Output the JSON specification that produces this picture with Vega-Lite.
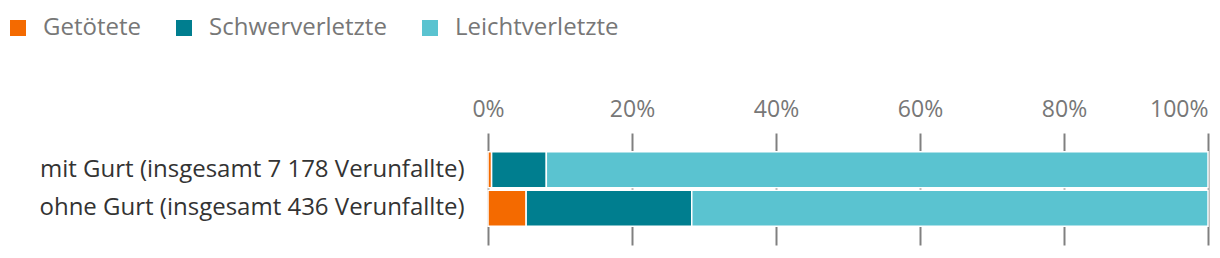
{
  "$schema": "https://vega.github.io/schema/vega-lite/v6.json",
  "autosize": {"type": "none"},
  "padding": {"left": 488, "top": 133, "right": 12, "bottom": 13},
  "width": 720,
  "height": 112,
  "data": {
    "values": [
      {"gruppe": "mit Gurt (insgesamt 7 178 Verunfallte)", "kategorie": "Getötete", "ord": 1, "anteil": 0.5},
      {"gruppe": "mit Gurt (insgesamt 7 178 Verunfallte)", "kategorie": "Schwerverletzte", "ord": 2, "anteil": 7.6},
      {"gruppe": "mit Gurt (insgesamt 7 178 Verunfallte)", "kategorie": "Leichtverletzte", "ord": 3, "anteil": 91.9},
      {"gruppe": "ohne Gurt (insgesamt 436 Verunfallte)", "kategorie": "Getötete", "ord": 1, "anteil": 5.3},
      {"gruppe": "ohne Gurt (insgesamt 436 Verunfallte)", "kategorie": "Schwerverletzte", "ord": 2, "anteil": 23.0},
      {"gruppe": "ohne Gurt (insgesamt 436 Verunfallte)", "kategorie": "Leichtverletzte", "ord": 3, "anteil": 71.7}
    ]
  },
  "mark": {"type": "bar", "stroke": "white", "strokeWidth": 1.5},
  "encoding": {
    "y": {
      "field": "gruppe", "type": "nominal", "sort": null,
      "scale": {"paddingInner": 0.06, "paddingOuter": 0.485},
      "axis": {"title": null, "ticks": false, "domain": false, "labelPadding": 24, "labelFontSize": 24, "labelColor": "#333333", "labelLimit": 600, "labelFont": "Open Sans"}
    },
    "x": {
      "field": "anteil", "type": "quantitative", "stack": "zero",
      "scale": {"domain": [0, 100], "nice": false},
      "axis": {
        "title": null, "orient": "top", "values": [0, 20, 40, 60, 80, 100],
        "labelExpr": "datum.value + '%'",
        "labelAlign": {"expr": "datum.value == 100 ? 'right' : 'center'"},
        "grid": true, "gridColor": "#808080", "gridWidth": 2,
        "domain": false, "ticks": false, "labelPadding": 12,
        "labelFontSize": 23, "labelColor": "#777777", "labelFont": "Open Sans"
      }
    },
    "color": {
      "field": "kategorie", "type": "nominal",
      "scale": {"domain": ["Getötete", "Schwerverletzte", "Leichtverletzte"], "range": ["#f46a00", "#007e8f", "#5ac3d0"]},
      "legend": {
        "title": null, "orient": "none", "direction": "horizontal",
        "legendX": -482, "legendY": -117,
        "symbolType": "square", "symbolSize": 256, "symbolStrokeWidth": 0, "symbolOpacity": 1,
        "labelOffset": 13, "columnPadding": 31, "labelLimit": 400,
        "labelFontSize": 24, "labelColor": "#777777", "labelFont": "Open Sans"
      }
    },
    "order": {"field": "ord", "type": "quantitative"}
  },
  "config": {"view": {"stroke": null}, "font": "Open Sans"}
}
